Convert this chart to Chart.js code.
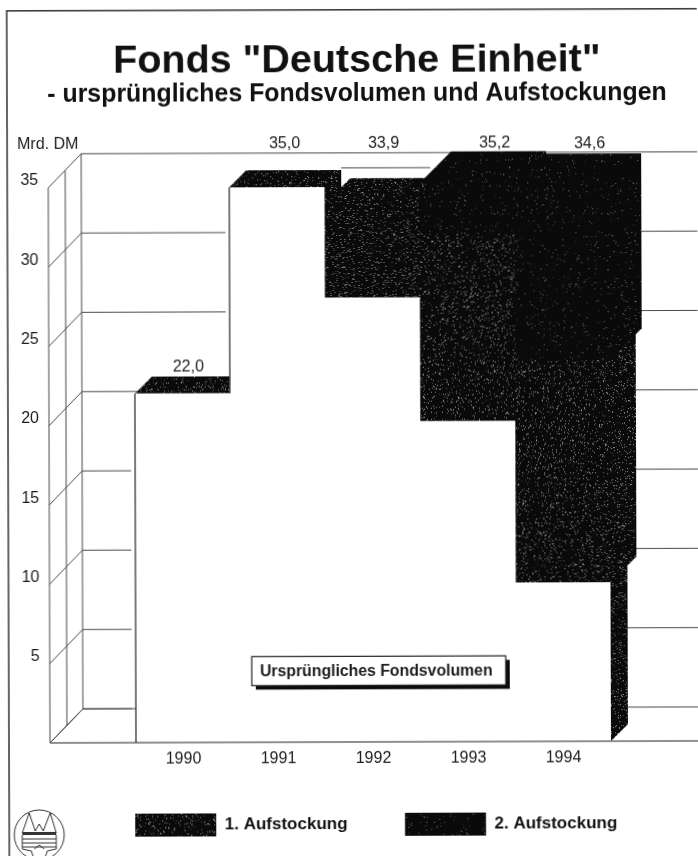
<!DOCTYPE html>
<html><head><meta charset="utf-8">
<style>
html,body{margin:0;padding:0;background:#fff;overflow:hidden;width:698px;height:856px}
canvas{display:block;transform:rotate(-0.18deg);transform-origin:349px 428px;filter:blur(0.35px)}
</style>
<script src="https://cdn.jsdelivr.net/npm/chart.js@4/dist/chart.umd.js"></script>
</head><body>
<canvas id="c" width="698" height="856"></canvas>
<script>
const years = ['1990','1991','1992','1993','1994'];
const original = [22, 35, 28, 20.2, 10];
const aufstockung1 = [0, 0, 5.9, 11.8, 14];
const aufstockung2 = [0, 0, 0, 3.2, 10.6];
const totalLabels = ['22,0','35,0','33,9','35,2','34,6'];
const seriesNames = ['Ursprüngliches Fondsvolumen','1. Aufstockung','2. Aufstockung'];
const titleText = 'Fonds "Deutsche Einheit"';
const subtitleText = '- ursprüngliches Fondsvolumen und Aufstockungen';
const unitText = 'Mrd. DM';

const FONT = '"Liberation Sans", Arial, sans-serif';
const INK = '#1c1c1c', LINE = '#4a4a4a';
const WALL = 33, WALL_RISE = 34;    // depth of the side wall
const DEPTH = [17, 26, 32];         // extrusion of each stacked series
const LABEL_DX = [6, 8, 12, 28, 28];
const LABEL_DY = [-26, -43, -61, -40, -49];
const TOP_RISE = [0, 0, 0, 0, 7];

function speckle(step, seed, lo, hi){
  const cv = document.createElement('canvas'); cv.width = cv.height = 211;
  const g = cv.getContext('2d');
  g.fillStyle = '#0a0a0a'; g.fillRect(0,0,211,211);
  let s = seed;
  const next = () => {
    s = (s + 0x6D2B79F5) | 0;
    let t = Math.imul(s ^ (s >>> 15), 1 | s);
    t = (t + Math.imul(t ^ (t >>> 7), 61 | t)) ^ t;
    return ((t ^ (t >>> 14)) >>> 0) / 4294967296;
  };
  for (let y = 0; y < 211; y++) for (let x = 0; x < 211; x++) {
    if (next() < step) {
      const v = Math.round(lo + (hi - lo) * next());
      g.fillStyle = `rgb(${v},${v},${v})`;
      g.fillRect(x, y, 1, 1);
    }
  }
  return cv;
}
const ctx0 = document.getElementById('c').getContext('2d');
const pat1 = ctx0.createPattern(speckle(0.09, 77, 50, 170), 'repeat');
const pat2 = ctx0.createPattern(speckle(0.025, 1234, 40, 130), 'repeat');
const PATS = [pat1, pat1, pat2];

function line(c, x1, y1, x2, y2){ c.beginPath(); c.moveTo(x1,y1); c.lineTo(x2,y2); c.stroke(); }

const scene = {
  id: 'scene',
  beforeLayout(chart){
    const l = chart.legend;
    if (!l.$wrapped) {
      const fit = l.fit;
      l.fit = function(){ fit.call(this); this.height = 84.5; };
      l.$wrapped = true;
    }
  },
  afterLayout(chart){
    chart.boxes.forEach(b => {
      if (b.options && b.options.text !== undefined && b !== chart.legend) { b.left = 18; b.right = 698; }
    });
    const l = chart.legend;
    l.left = 76.5; l.right = 698; l.top = 755.5; l.bottom = 856;
  },
  beforeDraw(chart){
    const c = chart.ctx;
    c.save();
    c.fillStyle = '#fff'; c.fillRect(0,0,698,856);
    c.strokeStyle = '#333'; c.lineWidth = 1.5;
    c.strokeRect(8, 9.8, 800, 900);
    c.restore();
  },
  beforeDatasetsDraw(chart){
    const c = chart.ctx, xs = chart.scales.x, ys = chart.scales.y;
    const half = (xs.getPixelForValue(1) - xs.getPixelForValue(0)) / 2;
    const y0 = ys.getPixelForValue(0), yTop = ys.getPixelForValue(35);
    const frontX = 49, midX = frontX + 17, backX = frontX + WALL;
    c.save();
    c.strokeStyle = LINE; c.lineWidth = 1;
    // side wall and back wall
    line(c, frontX, yTop, frontX, y0);
    line(c, midX, yTop - 17, midX, y0 - 17);
    line(c, backX, yTop - WALL_RISE, backX, y0 - WALL_RISE);
    ys.ticks.forEach(t => {
      const y = ys.getPixelForValue(t.value);
      line(c, frontX, y, backX, y - WALL_RISE);
      line(c, backX, y - WALL_RISE, 698, y - WALL_RISE);
    });
    // clear gap left of each rising bar edge
    c.fillStyle = '#fff';
    let prev = y0;
    original.forEach((v,i) => {
      const y = ys.getPixelForValue(v), l = xs.getPixelForValue(i) - half;
      if (y < prev) c.fillRect(l - 4, y - 1, 4, prev - y + (i === 0 ? -WALL_RISE + 3 : 2));
      prev = y;
    });
    // extrusions, series by series within each year
    years.forEach((_,i) => {
      const l = xs.getPixelForValue(i) - half, r = l + 2 * half;
      let base = 0;
      [original, aufstockung1, aufstockung2].forEach((arr,k) => {
        const v = arr[i];
        if (!v) return;
        const d = DEPTH[k];
        const yb = ys.getPixelForValue(base), yt = ys.getPixelForValue(base + v);
        const rise = k === 2 ? TOP_RISE[i] : 0;
        c.fillStyle = PATS[k];
        c.beginPath();
        c.moveTo(l, yt);
        c.lineTo(l + d, yt - d - rise);
        c.lineTo(r + d, yt - d - rise);
        c.lineTo(r + d, yb - d);
        c.lineTo(r, yb);
        c.closePath();
        c.fill();
        base += v;
      });
    });
    // faint upper edge behind the 1992 bar
    const e = ys.getPixelForValue(35) - 19;
    line(c, xs.getPixelForValue(2) - half + 17, e, xs.getPixelForValue(3) - half + 11, e);
    c.restore();
  },
  afterDatasetsDraw(chart){
    const c = chart.ctx, xs = chart.scales.x, ys = chart.scales.y;
    const half = (xs.getPixelForValue(1) - xs.getPixelForValue(0)) / 2;
    const y0 = ys.getPixelForValue(0), yTop = ys.getPixelForValue(35);
    c.save();
    c.strokeStyle = '#222'; c.lineWidth = 1.2;
    // floor
    line(c, 49, y0, 698, y0);
    c.lineWidth = 1;
    c.strokeStyle = LINE;
    line(c, 49, y0, 49 + WALL, y0 - WALL_RISE);
    line(c, 49 + WALL, y0 - WALL_RISE, xs.getPixelForValue(0) - half, y0 - WALL_RISE);
    // rising white edges
    c.strokeStyle = '#222'; c.lineWidth = 1.2;
    let prev = y0;
    original.forEach((v,i) => {
      const y = ys.getPixelForValue(v), l = xs.getPixelForValue(i) - half;
      if (y < prev) line(c, l, y, l, prev);
      prev = y;
    });
    // totals
    c.fillStyle = INK; c.textAlign = 'center'; c.textBaseline = 'middle';
    c.font = '16px ' + FONT;
    totalLabels.forEach((t,i) => {
      const total = original[i] + aufstockung1[i] + aufstockung2[i];
      c.fillText(t, xs.getPixelForValue(i) + LABEL_DX[i], ys.getPixelForValue(total) + LABEL_DY[i]);
    });
    // unit
    c.textAlign = 'left';
    c.fillText(unitText, 18, yTop - 43);
    // label box of the first series
    const bx = xs.getPixelForValue(2) - 121.5, by = ys.getPixelForValue(5.4), bw = 254, bh = 29;
    c.fillStyle = '#0c0c0c'; c.fillRect(bx + 4, by + 4, bw, bh);
    c.fillStyle = '#fff'; c.fillRect(bx, by, bw, bh);
    c.strokeStyle = '#222'; c.lineWidth = 1.2; c.strokeRect(bx, by, bw, bh);
    c.fillStyle = INK; c.font = 'bold 15.8px ' + FONT; c.textAlign = 'center';
    c.fillText(seriesNames[0], bx + bw / 2 - 2.5, by + bh / 2 + 1);
    // emblem
    const ox = 38, oy = 834;
    c.strokeStyle = '#333'; c.lineWidth = 1;
    c.beginPath(); c.arc(ox, oy, 25, 0, Math.PI * 2); c.stroke();
    c.beginPath();
    c.moveTo(ox - 17, oy - 2); c.lineTo(ox - 10, oy - 22); c.lineTo(ox - 4, oy - 4);
    c.lineTo(ox, oy - 11); c.lineTo(ox + 4, oy - 4); c.lineTo(ox + 11, oy - 22); c.lineTo(ox + 17, oy - 2);
    c.stroke();
    c.fillStyle = '#333'; c.fillRect(ox - 17, oy - 3, 34, 3);
    [4, 8, 12].forEach(d => line(c, ox - 17, oy + d, ox + 17, oy + d));
    c.beginPath();
    c.moveTo(ox - 17, oy); c.lineTo(ox - 17, oy + 14); c.lineTo(ox - 8, oy + 16); c.lineTo(ox - 6, oy + 22);
    c.moveTo(ox + 17, oy); c.lineTo(ox + 17, oy + 14); c.lineTo(ox + 8, oy + 16); c.lineTo(ox + 6, oy + 22);
    c.moveTo(ox - 5, oy + 14); c.lineTo(ox, oy + 10); c.lineTo(ox + 5, oy + 14);
    c.stroke();
    c.restore();
  }
};

new Chart(ctx0, {
  type: 'bar',
  data: {
    labels: years,
    datasets: [
      { label: seriesNames[0], data: original, backgroundColor: '#fff' },
      { label: seriesNames[1], data: aufstockung1, backgroundColor: pat1 },
      { label: seriesNames[2], data: aufstockung2, backgroundColor: pat2 }
    ]
  },
  options: {
    responsive: false, animation: false,
    devicePixelRatio: 1,
    layout: { padding: { left: 0, right: 88, top: 0, bottom: 0 } },
    datasets: { bar: { categoryPercentage: 1, barPercentage: 1, borderWidth: 0 } },
    scales: {
      x: {
        stacked: true,
        grid: { display: false, drawTicks: false }, border: { display: false },
        ticks: { color: INK, font: { family: FONT, size: 16 }, padding: 7, autoSkip: false, maxRotation: 0 },
        afterFit(s){ s.height = 29.5; }
      },
      y: {
        stacked: true, min: 0, max: 35,
        grid: { display: false, drawTicks: false }, border: { display: false },
        ticks: {
          stepSize: 5, color: INK, font: { family: FONT, size: 16 }, padding: 96, labelOffset: -7,
          callback: v => v === 0 ? '' : String(v)
        },
        afterFit(s){ s.width = 135; }
      }
    },
    plugins: {
      tooltip: { enabled: false },
      title: {
        display: true, text: titleText, color: '#111',
        font: { family: FONT, size: 39.5, weight: 'bold', lineHeight: 1 },
        padding: { top: 41, bottom: 0 }
      },
      subtitle: {
        display: true, text: subtitleText, color: '#111',
        font: { family: FONT, size: 24.9, weight: 'bold', lineHeight: 1 },
        padding: { top: 1, bottom: 80.5 }
      },
      legend: {
        display: true, position: 'bottom', align: 'start',
        labels: {
          boxWidth: 81, boxHeight: 23, padding: 57.5, color: '#111',
          font: { family: FONT, size: 17, weight: 'bold' },
          filter: item => item.datasetIndex > 0
        }
      }
    }
  },
  plugins: [scene]
});
</script>
</body></html>
